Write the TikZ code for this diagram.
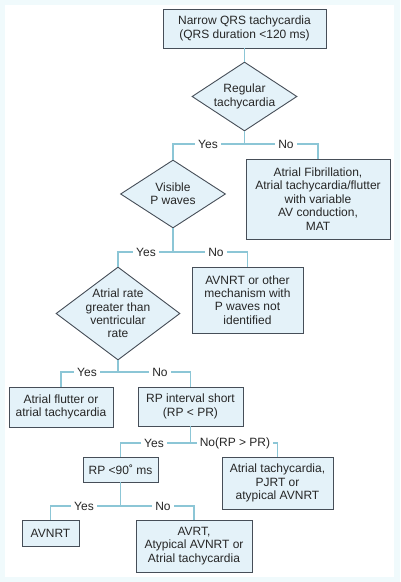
\documentclass[tikz,border=0pt]{standalone}
\usepackage{fontspec}
\setmainfont{Liberation Sans}
\usetikzlibrary{shapes.geometric}
\definecolor{boxfill}{RGB}{228,242,249}
\definecolor{boxline}{RGB}{70,78,88}
\definecolor{connc}{RGB}{140,198,214}
\definecolor{edgetint}{RGB}{240,250,252}
\begin{document}
\begin{tikzpicture}[x=1pt,y=1pt,
  txt/.style={font=\fontsize{12}{13.4}\selectfont, text=black!85},
  box/.style={txt, draw=boxline, line width=0.9pt, fill=boxfill, align=center, inner sep=0pt},
  dia/.style={diamond, draw=boxline, line width=0.9pt, fill=boxfill, inner sep=0pt},
  conn/.style={draw=connc, line width=1.5pt},
  lbl/.style={txt, fill=white, inner xsep=3pt, inner ysep=1pt}]
\useasboundingbox (0,0) rectangle (400,582);
\fill[edgetint] (0,0) rectangle (400,582);
\fill[white] (5,5) rectangle (394,577);
% nodes
\node[box, minimum width=163pt, minimum height=39pt] (top) at (244.5,553.5) {Narrow QRS tachycardia\\(QRS duration <120 ms)};
\node[dia, minimum width=105pt, minimum height=69pt, label={[txt,align=center]center:Regular\\tachycardia}] (d1) at (244.5,485.5) {};
\node[dia, minimum width=105pt, minimum height=68pt, label={[txt,align=center]center:Visible\\P waves}] (d2) at (173,388) {};
\node[box, minimum width=144pt, minimum height=80pt] (af) at (318,383) {Atrial Fibrillation,\\Atrial tachycardia/flutter\\with variable\\AV conduction,\\MAT};
\node[dia, minimum width=124pt, minimum height=93pt, label={[txt,align=center]center:Atrial rate\\greater than\\ventricular\\rate}] (d3) at (118,268.5) {};
\node[box, minimum width=111pt, minimum height=66pt] (oth) at (247.5,282) {AVNRT or other\\mechanism with\\P waves not\\identified};
\node[box, minimum width=104pt, minimum height=40pt] (fl) at (61,175) {Atrial flutter or\\atrial tachycardia};
\node[box, minimum width=105pt, minimum height=39pt] (rp) at (190.5,175.5) {RP interval short\\(RP < PR)};
\node[box, minimum width=75pt, minimum height=25pt] (rp90) at (120.5,112.5) {RP <90˚ ms};
\node[box, minimum width=111pt, minimum height=52pt] (pj) at (277.5,99) {Atrial tachycardia,\\PJRT or\\atypical AVNRT};
\node[box, minimum width=57pt, minimum height=26pt] (avn) at (50.5,49) {AVNRT};
\node[box, minimum width=116pt, minimum height=52pt] (avr) at (194,36) {AVRT,\\Atypical AVNRT or\\Atrial tachycardia};
% junctions
\coordinate (j1) at (244.5,438);
\coordinate (j2) at (173,330);
\coordinate (j3) at (118,210);
\coordinate (j4) at (190.5,139);
\coordinate (j5) at (120.5,76);
% connectors
\draw[conn] (top.south) -- (d1.north);
\draw[conn] (d1.south) -- (j1);
\draw[conn] (j1) -| (d2.north);
\draw[conn] (j1) -| (af.north);
\draw[conn] (d2.south) -- (j2);
\draw[conn] (j2) -| (d3.north);
\draw[conn] (j2) -| (oth.north);
\draw[conn] (d3.south) -- (j3);
\draw[conn] (j3) -| (fl.north);
\draw[conn] (j3) -| (rp.north);
\draw[conn] (rp.south) -- (j4);
\draw[conn] (j4) -| (rp90.north);
\draw[conn] (j4) -| (pj.north);
\draw[conn] (rp90.south) -- (j5);
\draw[conn] (j5) -| (avn.north);
\draw[conn] (j5) -| (avr.north);
% labels
\node[lbl] (y1) at (208,438) {Yes};
\node[lbl] (n1) at (286,438) {No};
\node[lbl] (y2) at (146,330) {Yes};
\node[lbl] (n2) at (216,330) {No};
\node[lbl] (y3) at (87,210) {Yes};
\node[lbl] (n3) at (160,210) {No};
\node[lbl] (y4) at (154,139) {Yes};
\node[lbl] (n4) at (235,139) {No(RP > PR)};
\node[lbl] (y5) at (84,76) {Yes};
\node[lbl] (n5) at (163,76) {No};
\end{tikzpicture}
\end{document}
